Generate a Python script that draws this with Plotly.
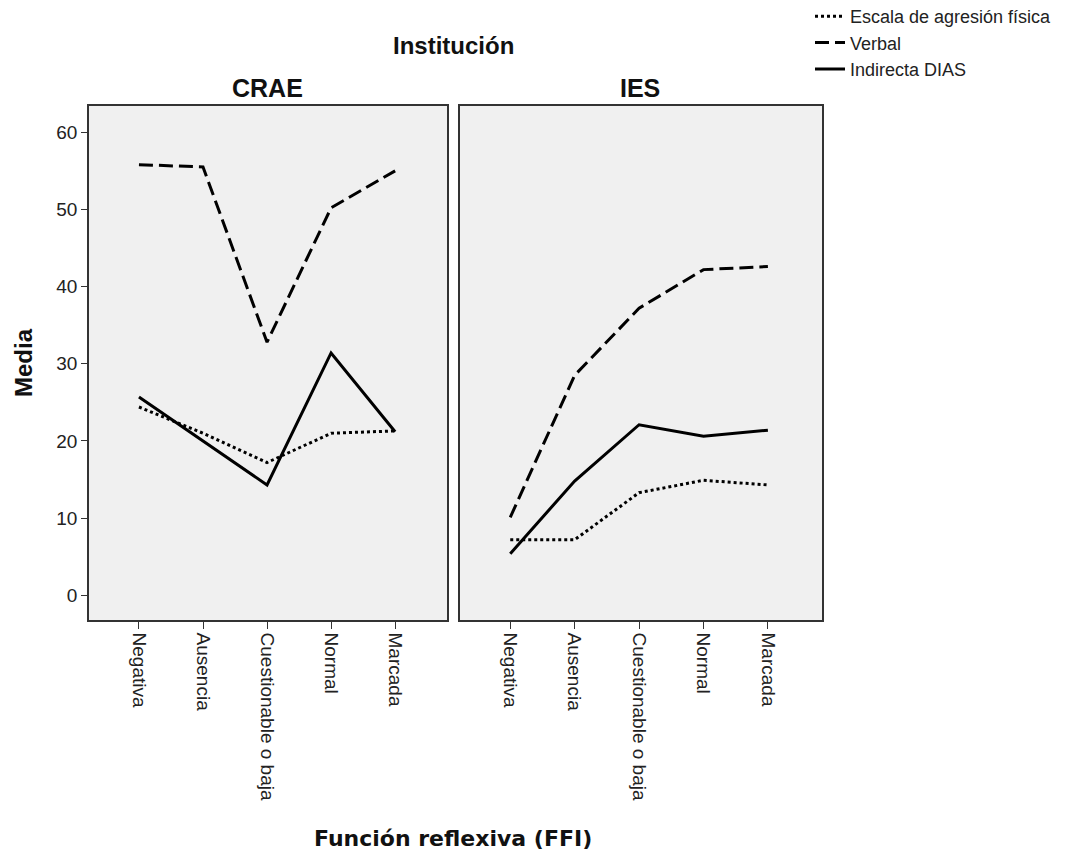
import plotly.graph_objects as go

categories = ["Negativa", "Ausencia", "Cuestionable o baja", "Normal", "Marcada"]
series_names = ["Escala de agresión física", "Verbal", "Indirecta DIAS"]

crae_fisica = [24.4, 21.0, 17.2, 21.0, 21.3]
crae_verbal = [55.8, 55.5, 32.8, 50.2, 55.0]
crae_indirecta = [25.7, 20.0, 14.3, 31.4, 21.2]

ies_fisica = [7.2, 7.2, 13.3, 14.9, 14.3]
ies_verbal = [10.1, 28.5, 37.2, 42.2, 42.6]
ies_indirecta = [5.4, 14.8, 22.1, 20.6, 21.4]

y_ticks = [0, 10, 20, 30, 40, 50, 60]

W, H = 1085, 856
OFF = 8  # page offset of the rendered figure


def px(x):
    return (x - OFF) / W


def py(y):
    return 1 - (y - OFF) / H


dashes = ["3px,3px", "14px,6px", "solid"]

fig = go.Figure()
panels = [("x", "y", [crae_fisica, crae_verbal, crae_indirecta]),
          ("x2", "y2", [ies_fisica, ies_verbal, ies_indirecta])]
for pi, (xa, ya, data) in enumerate(panels):
    for si, vals in enumerate(data):
        fig.add_trace(go.Scatter(
            x=categories, y=vals, mode="lines", xaxis=xa, yaxis=ya,
            name=series_names[si], showlegend=(pi == 0),
            line=dict(color="black", width=3, dash=dashes[si]),
        ))

ydom = [py(620), py(106)]
tick_font = dict(family="Liberation Sans", size=19, color="#222")
axis_common = dict(showline=True, linecolor="#333333", linewidth=1.5, mirror=True,
                   showgrid=False, zeroline=False, ticks="outside",
                   tickcolor="#333333", tickfont=tick_font)
fig.update_layout(
    width=W, height=H, paper_bgcolor="white", plot_bgcolor="#F0F0F0",
    margin=dict(l=0, r=0, t=0, b=0, autoexpand=False),
    xaxis=dict(domain=[px(89), px(447)], anchor="y", type="category",
               range=[-0.78, 4.81], tickangle=90, ticklen=7, **axis_common),
    xaxis2=dict(domain=[px(460), px(822)], anchor="y2", type="category",
                range=[-0.78, 4.84], tickangle=90, ticklen=7, **axis_common),
    yaxis=dict(domain=ydom, anchor="x", range=[-3.2, 63.4], tickvals=y_ticks,
               ticklen=6, **axis_common),
    yaxis2=dict(domain=ydom, anchor="x2", range=[-3.2, 63.4], showticklabels=False,
                ticks="", showline=True, linecolor="#333333", linewidth=1.5, mirror=True,
                showgrid=False, zeroline=False),
    legend=dict(x=px(810), y=1 + 10 / H, xanchor="left", yanchor="top",
                font=dict(family="Liberation Sans", size=18, color="#222"),
                bgcolor="rgba(0,0,0,0)", itemwidth=30, tracegroupgap=0),
    showlegend=True,
)

common = dict(xref="paper", yref="paper", showarrow=False, xanchor="center", yanchor="middle")
fig.add_annotation(text="<b>Institución</b>", x=px(453), y=py(46),
                   font=dict(family="Liberation Sans", size=24, color="#111"), **common)
fig.add_annotation(text="<b>CRAE</b>", x=px(267), y=py(88),
                   font=dict(family="Liberation Sans", size=25, color="#111"), **common)
fig.add_annotation(text="<b>IES</b>", x=px(640), y=py(88),
                   font=dict(family="Liberation Sans", size=25, color="#111"), **common)
fig.add_annotation(text="<b>Media</b>", x=px(24), y=py(363), textangle=-90,
                   font=dict(family="Liberation Sans", size=24, color="#111"), **common)
fig.add_annotation(text="<b>Función reflexiva (FFI)</b>", x=px(453), y=py(838),
                   font=dict(family="DejaVu Sans", size=22, color="#111"), **common)

fig.write_html("out.html")
